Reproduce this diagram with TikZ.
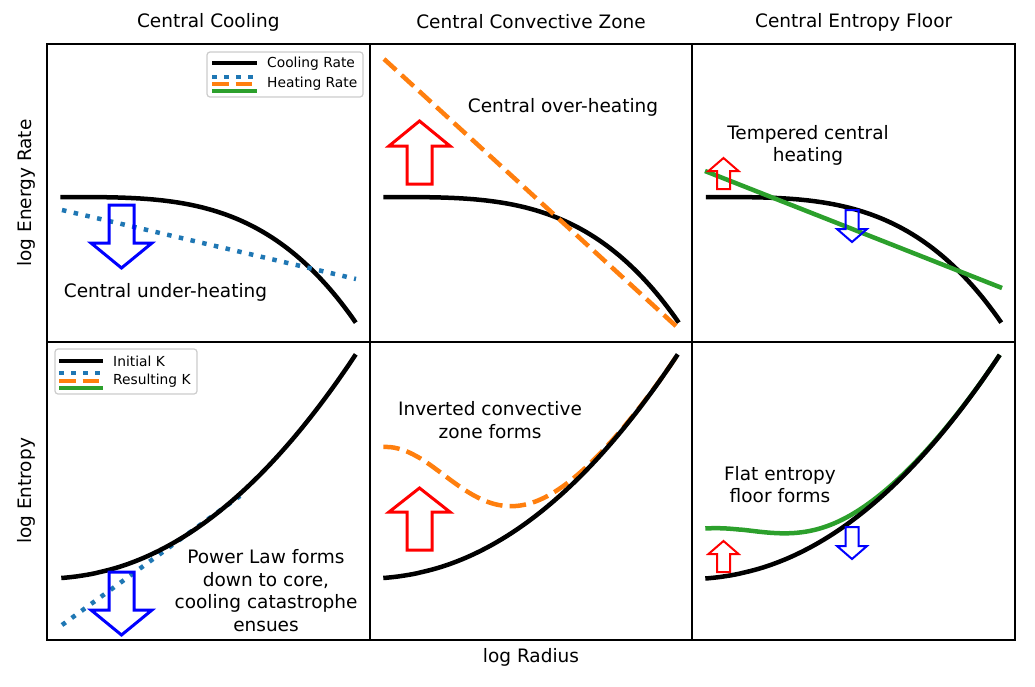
\documentclass[tikz,border=0pt]{standalone}
\usepackage{fontspec}
\setmainfont{DejaVu Sans}
\definecolor{tabblue}{HTML}{1F77B4}
\definecolor{taborange}{HTML}{FF7F0E}
\definecolor{tabgreen}{HTML}{2CA02C}
\definecolor{leggray}{HTML}{CCCCCC}
\tikzset{
  curve/.style={line width=4.5pt, black, line join=round},
  heatdot/.style={line width=4.5pt, tabblue, dash pattern=on 4.5pt off 7.5pt},
  heatdash/.style={line width=4.5pt, taborange, dash pattern=on 16.5pt off 7.2pt},
  heatsolid/.style={line width=4.5pt, tabgreen},
  frameline/.style={line width=1.8pt, black},
  bigarrow/.style={line width=3pt, line join=miter},
  smallarrow/.style={line width=2pt, line join=miter},
  lbl/.style={font=\fontsize{18.5}{22.5}\selectfont, inner sep=0pt, align=center},
  legtxt/.style={font=\fontsize{13.8}{16}\selectfont, inner sep=0pt, anchor=west},
  legbox/.style={draw=leggray, line width=1.2pt, fill=white, rounded corners=3pt},
}
\begin{document}
\begin{tikzpicture}[x=1pt,y=-1pt]
\useasboundingbox (0,0) rectangle (1035,686);

% ---------- top row: energy rates ----------
% panel 1
\draw[curve] plot[domain=0.001:1,samples=80] ({60+296*\x},{197+126*\x^3.4});
\draw[heatdot] (62,210) -- (356,279);
\draw[bigarrow, blue] (109,205) -- (134,205) -- (134,243) -- (152,243) -- (121.5,268) -- (91,243) -- (109,243) -- cycle;
% panel 2
\draw[curve] plot[domain=0.001:1,samples=80] ({383+296*\x},{197+126*\x^3.4});
\draw[heatdash] (384,59) -- (677,327);
\draw[bigarrow, red] (407,184) -- (432,184) -- (432,146) -- (450,146) -- (419.5,121) -- (389,146) -- (407,146) -- cycle;
% panel 3
\draw[curve] plot[domain=0.001:1,samples=80] ({705.5+296*\x},{197+126*\x^3.4});
\draw[heatsolid] (705,171) -- (1002,288);
\draw[smallarrow, red] (717,189) -- (730,189) -- (730,171) -- (738.5,171) -- (723.5,158) -- (708.5,171) -- (717,171) -- cycle;
\draw[smallarrow, blue] (845.5,210) -- (858.5,210) -- (858.5,229) -- (867,229) -- (852,242) -- (837,229) -- (845.5,229) -- cycle;

% ---------- bottom row: entropy ----------
% panel 4
\draw[heatdot] (62,625) -- (240,496);
\draw[curve] plot[domain=0.001:1,samples=80] ({61+295*\x},{578-224*(0.1*\x+0.9*\x^2.1)});
\draw[bigarrow, blue] (109,572) -- (134,572) -- (134,610) -- (152,610) -- (121.5,635) -- (91,610) -- (109,610) -- cycle;
% panel 5
\draw[heatdash] plot[domain=0.001:1,samples=80] ({383+295*\x},{578-224*(0.1*\x+0.9*\x^2.1)-127/exp((\x/0.34)^2)-4*(1-\x)});
\draw[curve] plot[domain=0.001:1,samples=80] ({383+295*\x},{578-224*(0.1*\x+0.9*\x^2.1)});
\draw[bigarrow, red] (407,550) -- (432,550) -- (432,512) -- (450,512) -- (419.5,488) -- (389,512) -- (407,512) -- cycle;
% panel 6
\draw[heatsolid] plot[domain=0.001:1,samples=80] ({705+295*\x},{578.5-224*(0.1*\x+0.9*\x^2.1)-47/exp((\x/0.33)^2)-3*(1-\x)});
\draw[curve] plot[domain=0.001:1,samples=80] ({705+295*\x},{578.5-224*(0.1*\x+0.9*\x^2.1)});
\draw[smallarrow, red] (717,572) -- (730,572) -- (730,554) -- (738.5,554) -- (723.5,541) -- (708.5,554) -- (717,554) -- cycle;
\draw[smallarrow, blue] (845.5,527) -- (858.5,527) -- (858.5,546) -- (867,546) -- (852,559) -- (837,546) -- (845.5,546) -- cycle;

% ---------- legends ----------
\draw[legbox] (207,52) rectangle (363,97);
\draw[curve] (212,63) -- (257,63);
\node[legtxt] (lg1) at (267,64) {Cooling Rate};
\draw[heatdot] (212,77) -- (257,77);
\draw[heatdash] (212,84) -- (257,84);
\draw[heatsolid] (212,91) -- (257,91);
\node[legtxt] (lg2) at (267,84) {Heating Rate};

\draw[legbox] (55,349) rectangle (197,394);
\draw[curve] (59,361) -- (103,361);
\node[legtxt] (lg3) at (113,361) {Initial K};
\draw[heatdot] (59,373) -- (103,373);
\draw[heatdash] (59,381) -- (103,381);
\draw[heatsolid] (59,388) -- (103,388);
\node[legtxt] (lg4) at (113,381) {Resulting K};

% ---------- annotations ----------
\node[lbl] (a1) at (165.5,292) {Central under-heating};
\node[lbl] (a2) at (563,107) {Central over-heating};
\node[lbl] (a3) at (808,145.5) {Tempered central\\heating};
\node[lbl] (a4) at (266,590.5) {Power Law forms\\down to core,\\cooling catastrophe\\ensues};
\node[lbl] (a5) at (490,420) {Inverted convective\\zone forms};
\node[lbl] (a6) at (780,484.5) {Flat entropy\\floor forms};

% ---------- frame ----------
\draw[frameline] (47,44) rectangle (1015,640);
\draw[frameline] (369.67,44) -- (369.67,640);
\draw[frameline] (692.33,44) -- (692.33,640);
\draw[frameline] (47,342) -- (1015,342);

% ---------- titles and axis labels ----------
\node[lbl] (t1) at (208.3,22) {Central Cooling};
\node[lbl] (t2) at (531,22) {Central Convective Zone};
\node[lbl] (t3) at (853.7,22) {Central Entropy Floor};
\node[lbl, rotate=90] (yl1) at (26,193) {log Energy Rate};
\node[lbl, rotate=90] (yl2) at (26,491) {log Entropy};
\node[lbl] (xl) at (531,657) {log Radius};
\end{tikzpicture}
\end{document}
